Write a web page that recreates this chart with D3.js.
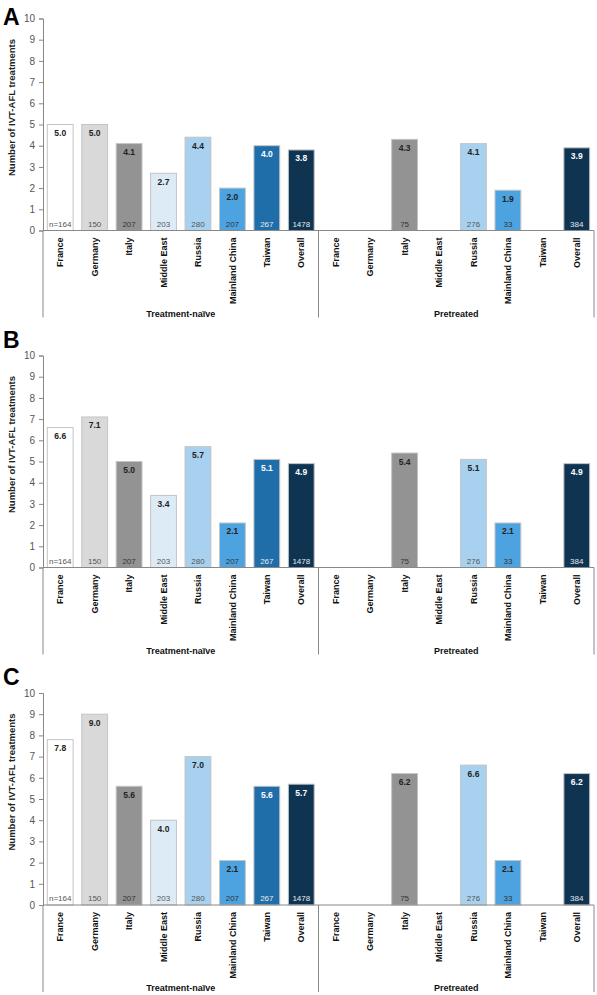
<!DOCTYPE html>
<html>
<head>
<meta charset="utf-8">
<script src="https://cdn.jsdelivr.net/npm/d3@7"></script>
<style>
html,body{margin:0;padding:0;background:#fff;}
svg{display:block;font-family:"Liberation Sans",Arial,sans-serif;}
</style>
</head>
<body>
<svg id="chart" width="597" height="995"></svg>
<script>
const categories = ["France","Germany","Italy","Middle East","Russia","Mainland China","Taiwan","Overall"];
const groups = ["Treatment-naïve","Pretreated"];
const panelLetters = ["A","B","C"];
const yTickValues = [0,1,2,3,4,5,6,7,8,9,10];

const naiveA = [5.0,5.0,4.1,2.7,4.4,2.0,4.0,3.8];
const pretreatedA = [null,null,4.3,null,4.1,1.9,null,3.9];
const naiveB = [6.6,7.1,5.0,3.4,5.7,2.1,5.1,4.9];
const pretreatedB = [null,null,5.4,null,5.1,2.1,null,4.9];
const naiveC = [7.8,9.0,5.6,4.0,7.0,2.1,5.6,5.7];
const pretreatedC = [null,null,6.2,null,6.6,2.1,null,6.2];

const nNaive = ["n=164","150","207","203","280","207","267","1478"];
const nPretreated = [null,null,"75",null,"276","33",null,"384"];

const barColors = ["#ffffff","#d9d9d9","#939393","#ddebf7","#a8d1ef","#4da3e0","#1f6ea9","#0f3452"];
const valueTextColors = ["#222","#222","#222","#222","#222","#222","#fff","#fff"];
const nTextColors = ["#555","#555","#333","#555","#555","#333","#e8e8e8","#e8e8e8"];

const panelData = [[naiveA,pretreatedA],[naiveB,pretreatedB],[naiveC,pretreatedC]];
const panelTop = [18.5, 355.5, 693];
const letterBaseline = [25, 348, 685];
const plotH = 212;
const left = 43, right = 594;

const svg = d3.select("#chart");

const keys = [];
groups.forEach((g,gi)=>categories.forEach((c,ci)=>keys.push(gi+"|"+ci)));
const x = d3.scaleBand().domain(keys).range([left,right]).paddingInner(0.25).paddingOuter(0.125);

panelData.forEach((pd,pi)=>{
  const top = panelTop[pi];
  const y = d3.scaleLinear().domain([0,10]).range([top+plotH, top]);
  const y0 = y(0);
  const g = svg.append("g");

  g.append("text").attr("x",3).attr("y",letterBaseline[pi])
    .attr("font-size",23).attr("font-weight","bold").attr("fill","#000").text(panelLetters[pi]);

  const ax = g.append("g").attr("transform",`translate(${left},0)`)
    .call(d3.axisLeft(y).tickValues(yTickValues).tickSize(4).tickPadding(4).tickFormat(d3.format("d")));
  ax.select(".domain").attr("stroke","#888");
  ax.selectAll(".tick line").attr("stroke","#888");
  ax.selectAll(".tick text").attr("font-size",10).attr("fill","#555")
    .attr("font-family","'Liberation Sans',Arial,sans-serif");

  g.append("text").attr("transform",`translate(14.5,${top+89}) rotate(-90)`)
    .attr("text-anchor","middle").attr("font-size",9.5).attr("font-weight","bold").attr("fill","#222")
    .text("Number of IVT-AFL treatments");

  pd.forEach((vals,gi)=>{
    vals.forEach((v,ci)=>{
      if(v===null) return;
      const k = gi+"|"+ci;
      const bx = x(k), bw = x.bandwidth();
      g.append("rect").attr("x",bx).attr("y",y(v)).attr("width",bw).attr("height",y0-y(v))
        .attr("fill",barColors[ci]).attr("stroke","#c4c4c4").attr("stroke-width",1);
      g.append("text").attr("x",bx+bw/2).attr("y",y(v)+11.5).attr("text-anchor","middle")
        .attr("font-size",8.5).attr("font-weight","bold").attr("fill",valueTextColors[ci])
        .text(d3.format(".1f")(v));
      const nl = gi===0 ? nNaive[ci] : nPretreated[ci];
      if(nl) g.append("text").attr("x",bx+bw/2).attr("y",y0-4).attr("text-anchor","middle")
        .attr("font-size",8).attr("fill",nTextColors[ci]).text(nl);
    });
  });

  g.append("line").attr("x1",left).attr("x2",right).attr("y1",y0).attr("y2",y0)
    .attr("stroke","#888").attr("stroke-width",1);

  const midX = (x("0|7")+x.bandwidth() + x("1|0"))/2;
  const divX = [left, midX, right];
  divX.forEach(dx=>{
    g.append("line").attr("x1",dx).attr("x2",dx).attr("y1",y0).attr("y2",y0+87)
      .attr("stroke","#888").attr("stroke-width",1);
  });

  keys.forEach(k=>{
    const ci = +k.split("|")[1];
    const cx = x(k)+x.bandwidth()/2;
    g.append("text").attr("transform",`translate(${cx+3.2},${y0+7}) rotate(-90)`)
      .attr("text-anchor","end").attr("font-size",9).attr("font-weight","bold").attr("fill","#111")
      .text(categories[ci]);
  });

  groups.forEach((gl,gi)=>{
    const x1 = gi===0 ? left : divX[1];
    const x2 = gi===0 ? divX[1] : right;
    g.append("text").attr("x",(x1+x2)/2).attr("y",y0+86).attr("text-anchor","middle")
      .attr("font-size",9).attr("font-weight","bold").attr("fill","#111").text(gl);
  });
});
</script>
</body>
</html>
